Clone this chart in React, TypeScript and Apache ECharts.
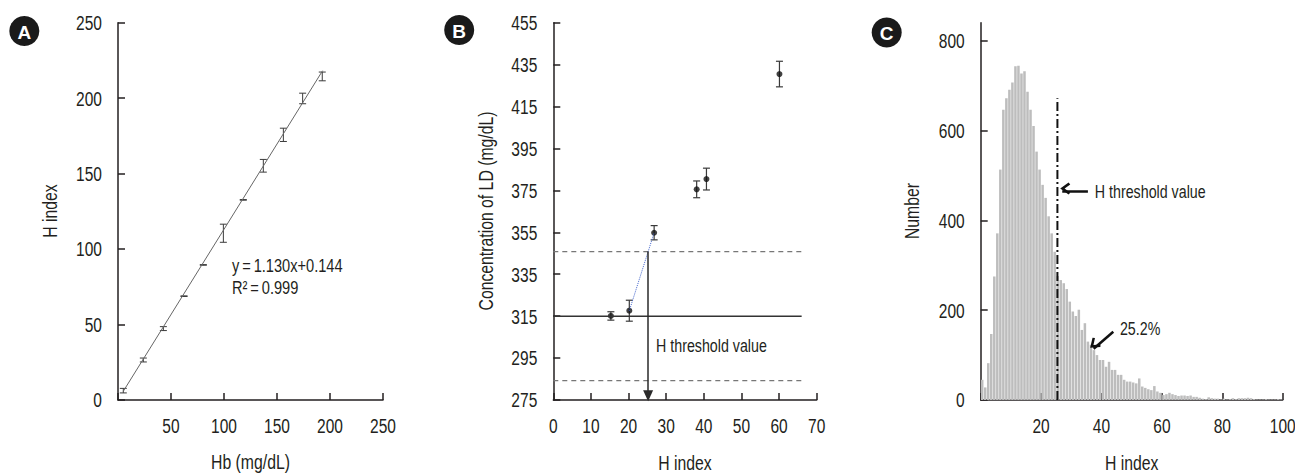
import React, { useEffect, useRef } from "react";
import * as echarts from "echarts";

// ---------- Panel A: H index vs Hb ----------
const A_hb = [5.0, 23.9, 42.8, 62.3, 80.5, 99.4, 118.2, 137.1, 156.0, 174.2, 192.7];
const A_hIndex = [6.2, 26.5, 47.3, 68.8, 89.5, 110.5, 132.6, 155.2, 175.7, 199.8, 214.4];
const A_err = [1.5, 1.3, 1.3, 0.2, 0.2, 6.0, 0.2, 4.2, 4.4, 3.5, 2.9];
const A_fitLine = [[5, 5.8], [193, 218.2]];
const A_xTicks = [50, 100, 150, 200, 250];
const A_yTicks = [0, 50, 100, 150, 200, 250];
const A_eqText = ["y\u2009=\u20091.130x+0.144", "R\u00b2\u2009=\u20090.999"];
const A_eqPos = [[107.5, 89.1], [107.5, 74.1]];

// ---------- Panel B: LD concentration vs H index ----------
const B_hIndex = [15.3, 20.2, 26.8, 38.1, 40.7, 60.1];
const B_ld = [315.1, 317.6, 354.8, 375.5, 380.4, 430.5];
const B_err = [2.0, 5.0, 3.4, 4.0, 5.2, 6.1];
const B_baseline = 315;
const B_upper = 345.8;
const B_lower = 284.2;
const B_lineEnd = 66;
const B_threshold = 25.2;
const B_xTicks = [0, 10, 20, 30, 40, 50, 60, 70];
const B_yTicks = [275, 295, 315, 335, 355, 375, 395, 415, 435, 455];
const B_noteText = ["H threshold value"];
const B_notePos = [[27.3, 300.9]];

// ---------- Panel C: histogram of H index ----------
const C_counts = [
  45, 28, 82, 147, 275, 371, 513, 646, 672, 691,
  707, 743, 744, 727, 732, 686, 646, 610, 553, 513,
  479, 450, 409, 371, 330, 276, 267, 260, 247, 219,
  197, 187, 201, 156, 171, 130, 123, 111, 100, 89,
  89, 74, 85, 67, 67, 56, 56, 45, 41, 41,
  39, 37, 48, 30, 27, 24, 22, 31, 19, 16,
  11, 13, 16, 13, 11, 9, 10, 10, 9, 10,
  7, 7, 5, 3, 2, 6, 4, 3, 3, 1,
  3, 1, 2, 4, 2, 4, 4, 4, 5, 4,
  2, 1, 1, 1, 2, 1, 1, 1, 2, 1,
];
const C_threshold = 25.4;
const C_thresholdTop = 672;
const C_xTicks = [20, 40, 60, 80, 100];
const C_yTicks = [0, 200, 400, 600, 800];
const C_noteText = ["H threshold value", "25.2%"];
const C_notePos = [[37.8, 464], [46.1, 160]];

const FONT = "'Liberation Sans', Arial, sans-serif";
const INK = "#231f20";
const SX = 0.77; // horizontal squeeze to mimic the condensed face of the original
const SX_TICK = 0.74;
const CHEVRON = "path://M6,0 L12,8 L10.2,9.6 L6,4.2 L1.8,9.6 L0,8 Z";

function axis(extra: any) {
  return {
    type: "value",
    axisLine: { show: true, onZero: false, lineStyle: { color: INK, width: 1.5 } },
    axisTick: { show: true, inside: true, length: 7, lineStyle: { color: INK, width: 1.5 } },
    axisLabel: { show: false },
    splitLine: { show: false },
    ...extra,
  };
}

function errorBars(color: string, cap: number, width: number) {
  return (params: any, api: any) => {
    const x = api.value(0);
    const lo = api.coord([x, api.value(1)]);
    const hi = api.coord([x, api.value(2)]);
    const st = { stroke: color, lineWidth: width };
    return {
      type: "group",
      children: [
        { type: "line", shape: { x1: lo[0], y1: lo[1], x2: hi[0], y2: hi[1] }, style: st },
        { type: "line", shape: { x1: lo[0] - cap, y1: lo[1], x2: lo[0] + cap, y2: lo[1] }, style: st },
        { type: "line", shape: { x1: hi[0] - cap, y1: hi[1], x2: hi[0] + cap, y2: hi[1] }, style: st },
      ],
    };
  };
}

function textLayer(
  ax: number,
  values: number[][],
  texts: string[],
  o: { align: string; vAlign: string; dx: number; dy: number; fs: number; sx: number }
) {
  return {
    type: "custom",
    xAxisIndex: ax,
    yAxisIndex: ax,
    silent: true,
    clip: false,
    data: values,
    renderItem: (params: any, api: any) => {
      const p = api.coord([api.value(0), api.value(1)]);
      return {
        type: "text",
        x: p[0] + o.dx,
        y: p[1] + o.dy,
        scaleX: o.sx,
        style: {
          text: texts[params.dataIndex],
          fill: INK,
          font: `${o.fs}px ${FONT}`,
          align: o.align,
          verticalAlign: o.vAlign,
        },
      };
    },
  };
}

function xTickLabels(ax: number, ticks: number[], yMin: number) {
  return textLayer(ax, ticks.map((t) => [t, yMin]), ticks.map(String), {
    align: "center",
    vAlign: "middle",
    dx: 0,
    dy: 26,
    fs: 21,
    sx: SX_TICK,
  });
}

function yTickLabels(ax: number, ticks: number[], xMin: number) {
  return textLayer(ax, ticks.map((t) => [xMin, t]), ticks.map(String), {
    align: "right",
    vAlign: "middle",
    dx: -16,
    dy: 0,
    fs: 21,
    sx: SX_TICK,
  });
}

function note(ax: number, pos: number[][], texts: string[], fs: number) {
  return textLayer(ax, pos, texts, { align: "left", vAlign: "middle", dx: 0, dy: 0, fs, sx: SX });
}

function title(text: string, x: number, y: number, vertical: boolean) {
  return {
    type: "text",
    x,
    y,
    rotation: vertical ? Math.PI / 2 : 0,
    scaleX: SX,
    silent: true,
    style: { text, fill: INK, font: `20.5px ${FONT}`, align: "center", verticalAlign: "middle" },
  };
}

function letter(ch: string, cx: number, cy: number) {
  return {
    type: "group",
    children: [
      { type: "circle", shape: { cx, cy, r: 15 }, style: { fill: "#1a1a1a" } },
      {
        type: "text",
        x: cx,
        y: cy + 1,
        style: {
          text: ch,
          fill: "#fff",
          font: `bold 19px ${FONT}`,
          align: "center",
          verticalAlign: "middle",
        },
      },
    ],
  };
}

export default function App() {
  const ref = useRef<HTMLDivElement>(null);
  useEffect(() => {
    const chart = echarts.init(ref.current!, null, { renderer: "svg" });
    const option: any = {
      animation: false,
      backgroundColor: "#fff",
      grid: [
        { left: 118, top: 22.7, width: 265, height: 377.3 },
        { left: 553.3, top: 22.7, width: 263.4, height: 377.3 },
        { left: 980.7, top: 22.7, width: 302, height: 377.3 },
      ],
      xAxis: [
        axis({ gridIndex: 0, min: 0, max: 250, interval: 50 }),
        axis({ gridIndex: 1, min: 0, max: 70, interval: 10 }),
        axis({ gridIndex: 2, min: 0, max: 100, interval: 20 }),
      ],
      yAxis: [
        axis({ gridIndex: 0, min: 0, max: 250, interval: 50 }),
        axis({ gridIndex: 1, min: 275, max: 455, interval: 20 }),
        axis({
          gridIndex: 2,
          min: 0,
          max: 840,
          axisTick: { show: true, inside: true, length: 7, lineStyle: { color: INK, width: 1.5 }, customValues: C_yTicks },
        }),
      ],
      graphic: [
        letter("A", 24.3, 31),
        letter("B", 459.2, 30),
        letter("C", 886.7, 32.5),
        title("Hb (mg/dL)", 250.5, 462, false),
        title("H index", 50, 211, true),
        title("H index", 685, 463, false),
        title("Concentration of LD (mg/dL)", 485.3, 211, true),
        title("H index", 1131.7, 463, false),
        title("Number", 912, 211, true),
      ],
      series: [
        // Panel A
        {
          type: "line",
          xAxisIndex: 0,
          yAxisIndex: 0,
          data: A_fitLine,
          symbol: "none",
          silent: true,
          lineStyle: { color: "#666", width: 1 },
        },
        {
          type: "custom",
          xAxisIndex: 0,
          yAxisIndex: 0,
          silent: true,
          renderItem: errorBars("#3a3a3a", 3.5, 1),
          data: A_hb.map((x, i) => [x, A_hIndex[i] - A_err[i], A_hIndex[i] + A_err[i]]),
        },
        note(0, A_eqPos, A_eqText, 19),
        xTickLabels(0, A_xTicks, 0),
        yTickLabels(0, A_yTicks, 0),
        // Panel B
        {
          type: "line",
          xAxisIndex: 1,
          yAxisIndex: 1,
          data: [[0, B_baseline], [B_lineEnd, B_baseline]],
          symbol: "none",
          silent: true,
          lineStyle: { color: "#333", width: 1.5 },
          markLine: {
            silent: true,
            symbol: ["none", "triangle"],
            symbolSize: [10, 11],
            label: { show: false },
            lineStyle: { color: "#2a2a2a", width: 1.5, type: "solid" },
            data: [[{ coord: [B_threshold, B_upper] }, { coord: [B_threshold, 277] }]],
          },
        },
        {
          type: "line",
          xAxisIndex: 1,
          yAxisIndex: 1,
          data: [[0, B_upper], [B_lineEnd, B_upper]],
          symbol: "none",
          silent: true,
          lineStyle: { color: "#777", width: 1.2, type: [5, 4] },
        },
        {
          type: "line",
          xAxisIndex: 1,
          yAxisIndex: 1,
          data: [[0, B_lower], [B_lineEnd, B_lower]],
          symbol: "none",
          silent: true,
          lineStyle: { color: "#777", width: 1.2, type: [5, 4] },
        },
        {
          type: "line",
          xAxisIndex: 1,
          yAxisIndex: 1,
          data: [[B_hIndex[1], B_ld[1]], [B_hIndex[2], B_ld[2]]],
          symbol: "none",
          silent: true,
          lineStyle: { color: "#4466cc", width: 1, type: "dotted" },
        },
        {
          type: "custom",
          xAxisIndex: 1,
          yAxisIndex: 1,
          silent: true,
          renderItem: errorBars("#3a3a3a", 3.5, 1.2),
          data: B_hIndex.map((x, i) => [x, B_ld[i] - B_err[i], B_ld[i] + B_err[i]]),
        },
        {
          type: "scatter",
          xAxisIndex: 1,
          yAxisIndex: 1,
          silent: true,
          symbolSize: 6,
          itemStyle: { color: "#111" },
          data: B_hIndex.map((x, i) => [x, B_ld[i]]),
        },
        note(1, B_notePos, B_noteText, 18.5),
        xTickLabels(1, B_xTicks, 275),
        yTickLabels(1, B_yTicks, 0),
        // Panel C
        {
          type: "bar",
          xAxisIndex: 2,
          yAxisIndex: 2,
          silent: true,
          barWidth: 2.5,
          itemStyle: { color: "#bdbdbd" },
          data: C_counts.map((v, i) => [i + 0.5, v]),
        },
        {
          type: "line",
          xAxisIndex: 2,
          yAxisIndex: 2,
          data: [[C_threshold, 0], [C_threshold, C_thresholdTop]],
          symbol: "none",
          silent: true,
          lineStyle: { color: "#111", width: 2, type: [9, 3, 2, 3] },
          markLine: {
            silent: true,
            symbol: ["none", CHEVRON],
            symbolSize: [12, 10],
            symbolOffset: [0, 3],
            label: { show: false },
            lineStyle: { color: "#111", width: 2.5, type: "solid" },
            data: [
              [{ coord: [35.5, 464] }, { coord: [27.0, 464] }],
              [{ coord: [43.9, 152] }, { coord: [37.4, 114] }],
            ],
          },
        },
        note(2, C_notePos, C_noteText, 18.5),
        xTickLabels(2, C_xTicks, 0),
        yTickLabels(2, C_yTicks, 0),
      ],
    };
    chart.setOption(option);
    return () => chart.dispose();
  }, []);
  return (
    <div
      ref={ref}
      style={{ position: "fixed", left: 0, top: 0, width: 1295, height: 474, background: "#fff" }}
    />
  );
}
